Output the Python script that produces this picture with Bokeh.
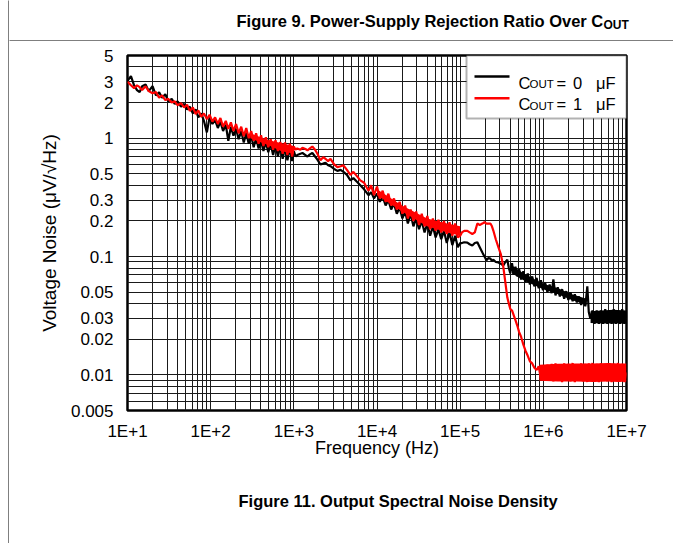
from bokeh.plotting import figure
from bokeh.layouts import row, column
from bokeh.models import FixedTicker, CustomJSTickFormatter, BoxAnnotation, Label, Range1d
from bokeh.embed import file_html
from bokeh.resources import INLINE

# ---------------- data ----------------
freq_band1 = [10, 11, 12, 13, 14, 15, 16.5, 18, 20, 22,
              24, 26, 28.5, 31, 34, 37, 40, 44, 48, 52,
              56, 61, 66, 71, 77, 83, 90, 97, 105, 113,
              122, 131, 141, 152, 163, 175, 188, 202, 217, 233,
              250, 268, 287, 307, 329, 352, 377, 403, 431, 461,
              493, 527, 563, 602, 643, 687, 734, 784, 837, 894,
              955, 1000]
freq_band2 = [1050, 1100, 1200, 1270, 1380, 1460, 1560, 1670, 1800, 1920,
              2090, 2250, 2400, 2580, 2760, 3050, 3340, 3650, 3950, 4350,
              4790, 5200, 5700, 6300, 7000, 7900,
              8500, 9200, 10000, 10800, 11700, 12700, 13700, 14800, 16000, 17300,
              18700, 20200, 21800, 23500, 25400, 27400, 29600, 32000, 34500, 37300,
              40300, 43500, 47000, 50700, 54800, 59200, 63900, 69000, 74500, 80500,
              86900, 93800, 100000]
freq_band3 = [105e3, 112e3, 122e3, 130e3, 140e3, 150e3, 161e3, 172e3, 185e3, 196e3,
              207e3, 219e3, 231e3, 241e3, 251e3, 268e3, 288e3, 308e3, 330e3, 350e3,
              369e3, 385e3, 401e3, 420e3, 440e3, 462e3, 487e3, 512e3, 540e3, 575e3,
              610e3, 650e3, 690e3, 735e3, 780e3, 830e3, 880e3, 935e3, 990e3, 1.05e6,
              1.12e6, 1.19e6, 1.26e6, 1.32e6, 1.40e6, 1.49e6, 1.58e6, 1.68e6, 1.78e6, 1.89e6,
              2.0e6, 2.12e6, 2.25e6, 2.39e6, 2.53e6, 2.68e6, 2.85e6, 3.02e6, 3.2e6, 3.38e6,
              3.52e6, 3.67e6, 3.9e6, 4.13e6, 4.38e6, 4.65e6, 4.93e6, 5.23e6, 5.55e6, 5.88e6,
              6.24e6, 6.62e6, 7.02e6, 7.44e6, 7.9e6, 8.37e6, 8.88e6, 9.42e6, 1.0e7]

# C_OUT = 0 uF (black)
cout0_band1 = [3.05, 3.35, 2.8, 2.55, 2.45, 2.75, 2.85, 2.5, 2.75, 2.3,
               2.45, 2.2, 2.35, 2.05, 2.15, 1.95, 2.05, 1.85, 1.95, 1.75,
               1.85, 1.62, 1.75, 1.5, 1.62, 1.4, 1.12, 1.5, 1.32, 1.42,
               1.22, 1.38, 1.15, 1.3, 0.95, 1.25, 1.05, 1.2, 0.98, 1.15,
               0.92, 1.1, 0.9, 1.05, 0.84, 1.0, 0.82, 0.95, 0.78, 0.93,
               0.76, 0.9, 0.72, 0.88, 0.7, 0.86, 0.67, 0.84, 0.65, 0.82,
               0.64, 0.78]
cout0_band2 = [0.7, 0.72, 0.74, 0.75, 0.72, 0.7, 0.73, 0.75, 0.7, 0.66,
               0.6, 0.61, 0.62, 0.59, 0.58, 0.55, 0.53, 0.54, 0.52, 0.49,
               0.44, 0.46, 0.43, 0.4, 0.37, 0.33,
               0.35, 0.31, 0.34, 0.29, 0.32, 0.27, 0.3, 0.25, 0.28, 0.23,
               0.26, 0.21, 0.24, 0.19, 0.23, 0.18, 0.21, 0.17, 0.2, 0.16,
               0.19, 0.15, 0.18, 0.145, 0.17, 0.14, 0.165, 0.13, 0.16, 0.125,
               0.15, 0.12, 0.13]
cout0_band3 = [0.13, 0.132, 0.131, 0.127, 0.124, 0.13, 0.132, 0.12, 0.108, 0.1,
               0.093, 0.097, 0.096, 0.092, 0.094, 0.09, 0.089, 0.087, 0.084, 0.09,
               0.094, 0.08, 0.072, 0.088, 0.07, 0.082, 0.068, 0.078, 0.064, 0.075,
               0.061, 0.072, 0.058, 0.068, 0.056, 0.066, 0.054, 0.063, 0.052, 0.06,
               0.05, 0.058, 0.049, 0.064, 0.047, 0.055, 0.046, 0.053, 0.044, 0.051,
               0.043, 0.05, 0.042, 0.048, 0.041, 0.046, 0.039, 0.044, 0.038, 0.056,
               0.034, 0.03, 0.035, 0.027, 0.035, 0.027, 0.035, 0.027, 0.036, 0.027,
               0.035, 0.027, 0.036, 0.027, 0.035, 0.027, 0.036, 0.027, 0.032]

# C_OUT = 1 uF (red)
cout1_band1 = [3.0, 2.8, 2.65, 2.8, 2.7, 2.55, 2.75, 2.5, 2.4, 2.45,
               2.2, 2.3, 2.1, 2.15, 2.0, 2.05, 1.9, 1.98, 1.82, 1.92,
               1.7, 1.82, 1.6, 1.72, 1.52, 1.62, 1.45, 1.58, 1.38, 1.5,
               1.32, 1.48, 1.25, 1.4, 1.2, 1.36, 1.15, 1.32, 1.1, 1.25,
               1.04, 1.22, 1.0, 1.15, 0.95, 1.1, 0.9, 1.06, 0.86, 1.02,
               0.84, 0.98, 0.8, 0.96, 0.78, 0.93, 0.74, 0.92, 0.72, 0.9,
               0.7, 0.85]
cout1_band2 = [0.8, 0.82, 0.8, 0.83, 0.81, 0.79, 0.82, 0.85, 0.8, 0.74,
               0.65, 0.69, 0.67, 0.64, 0.67, 0.6, 0.57, 0.58, 0.59, 0.54,
               0.49, 0.52, 0.48, 0.44, 0.42, 0.36,
               0.40, 0.33, 0.39, 0.31, 0.36, 0.29, 0.34, 0.27, 0.31, 0.25,
               0.29, 0.23, 0.27, 0.21, 0.25, 0.2, 0.24, 0.185, 0.23, 0.18,
               0.22, 0.17, 0.21, 0.165, 0.205, 0.16, 0.2, 0.155, 0.195, 0.15,
               0.19, 0.145, 0.15]
cout1_band3 = [0.16, 0.165, 0.165, 0.16, 0.155, 0.16, 0.19, 0.185, 0.19, 0.195,
               0.19, 0.19, 0.19, 0.18, 0.165, 0.14, 0.12, 0.105, 0.082, 0.06,
               0.045, 0.04, 0.036, 0.035, 0.032, 0.029, 0.026, 0.023, 0.021, 0.018,
               0.016, 0.0145, 0.013, 0.0125, 0.0115, 0.011, 0.0118, 0.0092, 0.012, 0.0089,
               0.0122, 0.009, 0.0124, 0.0088, 0.0125, 0.0089, 0.0123, 0.0087, 0.0125, 0.009,
               0.0124, 0.0088, 0.0126, 0.0087, 0.0123, 0.0089, 0.0125, 0.0088, 0.0124, 0.0087,
               0.0125, 0.009, 0.0126, 0.0088, 0.0124, 0.0087, 0.0125, 0.0089, 0.0123, 0.0088,
               0.0125, 0.0087, 0.0124, 0.0089, 0.0126, 0.0088, 0.0124, 0.0087, 0.0105]

# dense-noise envelopes (where the trace is so dense that it reads as a solid band)
cout0_env_freq = [4.2e5, 6e5, 1e6, 1.5e6, 2.2e6, 3.3e6]
cout0_env_low = [0.072, 0.062, 0.053, 0.048, 0.043, 0.039]
cout0_env_high = [0.084, 0.071, 0.059, 0.054, 0.048, 0.044]
cout0_flat_freq = [3.7e6, 5e6, 7e6, 1e7]
cout0_flat_low = [0.0275, 0.0272, 0.0272, 0.0272]
cout0_flat_high = [0.0345, 0.035, 0.0355, 0.035]
cout1_mid_freq = [300, 500, 700, 1000]
cout1_mid_low = [1.0, 0.87, 0.78, 0.74]
cout1_mid_high = [1.1, 0.96, 0.91, 0.86]
cout1_env_freq = [1e4, 2e4, 4e4, 7e4, 1e5]
cout1_env_low = [0.33, 0.24, 0.18, 0.16, 0.15]
cout1_env_high = [0.37, 0.27, 0.21, 0.19, 0.18]
cout1_flat_freq = [0.9e6, 1.5e6, 2.5e6, 4e6, 6e6, 8e6, 1e7]
cout1_flat_low = [0.0089, 0.0088, 0.0088, 0.0087, 0.0088, 0.0087, 0.0088]
cout1_flat_high = [0.0122, 0.0124, 0.0125, 0.0125, 0.0126, 0.0125, 0.0125]

x_ticks = [1e1, 1e2, 1e3, 1e4, 1e5, 1e6, 1e7]
x_tick_labels = ["1E+1", "1E+2", "1E+3", "1E+4", "1E+5", "1E+6", "1E+7"]
y_ticks = [0.005, 0.01, 0.02, 0.03, 0.05, 0.1, 0.2, 0.3, 0.5, 1, 2, 3, 5]
y_tick_labels = ["0.005", "0.01", "0.02", "0.03", "0.05", "0.1", "0.2", "0.3",
                 "0.5", "1", "2", "3", "5"]

legend_c = "C"
legend_sub = "OUT"
legend_eq = "="
legend_values = ["0", "1"]
legend_unit = "\u03bcF"
title_text = "Figure 9. Power-Supply Rejection Ratio Over C"
title_sub = "OUT"
caption_text = "Figure 11. Output Spectral Noise Density"
x_label = "Frequency (Hz)"
y_label = "Voltage Noise (\u03bcV/\u221aHz)"

freq = freq_band1 + freq_band2 + freq_band3
cout0 = cout0_band1 + cout0_band2 + cout0_band3
cout1 = cout1_band1 + cout1_band2 + cout1_band3

FONT = "Liberation Sans"
RED = "#ff0000"


def blank_fig(w, h):
    f = figure(width=w, height=h, output_backend="svg", toolbar_location=None, title=None,
               x_axis_location=None, y_axis_location=None, min_border=0,
               x_range=Range1d(0, 1), y_range=Range1d(0, 1), frame_align=False)
    f.grid.visible = False
    f.outline_line_color = None
    f.background_fill_color = "white"
    f.border_fill_color = "white"
    return f


def screen_box(fig, left, right, top, bottom, **kw):
    fig.add_layout(BoxAnnotation(left=left, right=right, top=top, bottom=bottom,
                                 left_units="screen", right_units="screen",
                                 top_units="screen", bottom_units="screen", **kw))


def screen_text(fig, text, x, y, size, bold=False):
    fig.add_layout(Label(x=x, y=y, x_units="screen", y_units="screen", text=text,
                         text_font=FONT, text_font_size=size, text_color="black",
                         text_font_style="bold" if bold else "normal",
                         text_baseline="alphabetic", text_align="left"))


# ---------------- left page rule ----------------
strip = blank_fig(9, 543)
screen_box(strip, 8, 9, 2000, -100, fill_color="black", fill_alpha=1, line_color=None)

# ---------------- top: caption of the previous figure + rule ----------------
top = blank_fig(664, 41)      # page x 9..673, y 0..41
screen_box(top, -10, 2000, 1, 0, fill_color="black", fill_alpha=1, line_color=None)
screen_text(top, title_text, 236 - 9, 41 - 20, "16.5px", bold=True)
screen_text(top, title_sub, 603 - 9, 41 - 24, "12px", bold=True)

# ---------------- main chart ----------------
p = figure(width=664, height=429, x_axis_type="log", y_axis_type="log",
           x_range=Range1d(10, 1e7), y_range=Range1d(0.005, 5),
           output_backend="svg", toolbar_location=None, title=None, frame_align=False,
           min_border_left=118, min_border_right=47,
           min_border_top=14, min_border_bottom=60)
p.background_fill_color = "white"
p.border_fill_color = "white"
p.outline_line_color = "black"
p.outline_line_width = 2.5

x_minor = [m * 10 ** e for e in range(1, 7) for m in range(2, 10)]
y_minor = [m * 10.0 ** e for e in range(-3, 1) for m in range(1, 10)]
p.xaxis.ticker = FixedTicker(ticks=x_ticks, minor_ticks=x_minor)
p.yaxis.ticker = FixedTicker(ticks=y_ticks, minor_ticks=y_minor)

fmt_code = """
for (let i = 0; i < tvals.length; i++) {
  if (Math.abs(Math.log10(tick) - Math.log10(tvals[i])) < 1e-6) return tlabs[i];
}
return "";
"""
p.xaxis.formatter = CustomJSTickFormatter(args=dict(tvals=x_ticks, tlabs=x_tick_labels), code=fmt_code)
p.yaxis.formatter = CustomJSTickFormatter(args=dict(tvals=y_ticks, tlabs=y_tick_labels), code=fmt_code)

for ax in (p.xaxis[0], p.yaxis[0]):
    ax.axis_line_color = None
    ax.major_tick_line_color = None
    ax.minor_tick_line_color = None
    ax.major_label_text_font = FONT
    ax.major_label_text_font_size = "17px"
    ax.major_label_text_color = "black"
    ax.axis_label_text_font = FONT
    ax.axis_label_text_font_style = "normal"
    ax.axis_label_text_color = "black"
p.xaxis.axis_label = x_label
p.yaxis.axis_label = y_label
p.xaxis.axis_label_text_font_size = "18px"
p.yaxis.axis_label_text_font_size = "19px"
p.xaxis.major_label_standoff = 5
p.xaxis.axis_label_standoff = -6
p.yaxis.major_label_standoff = 8
p.yaxis.axis_label_standoff = 8

for g in (p.xgrid[0], p.ygrid[0]):
    g.grid_line_color = "#1a1a1a"
    g.grid_line_width = 1
    g.minor_grid_line_color = "#1a1a1a"
    g.minor_grid_line_width = 1

p.varea(x=cout0_env_freq, y1=cout0_env_low, y2=cout0_env_high, fill_color="black")
p.varea(x=cout0_flat_freq, y1=cout0_flat_low, y2=cout0_flat_high, fill_color="black")
p.line(freq, cout0, line_color="black", line_width=2.2)
p.varea(x=cout1_mid_freq, y1=cout1_mid_low, y2=cout1_mid_high, fill_color=RED)
p.varea(x=cout1_env_freq, y1=cout1_env_low, y2=cout1_env_high, fill_color=RED)
p.varea(x=cout1_flat_freq, y1=cout1_flat_low, y2=cout1_flat_high, fill_color=RED)
p.line(freq, cout1, line_color=RED, line_width=2.2)

# page coordinates of the frame's left/bottom -> screen units of the main chart
FL, FB = 127, 410
def sx(px):
    return px - FL
def sy(py):
    return FB - py

# legend (box, line samples, texts with subscript)
screen_box(p, sx(466), sx(626), sy(55), sy(118),
           fill_color="white", fill_alpha=1, line_color="black", line_width=2)
for ly, col in ((76, "black"), (97.7, RED)):
    screen_box(p, sx(474), sx(509), sy(ly - 1.2), sy(ly + 1.2),
               fill_color=col, fill_alpha=1, line_color=None)
for base, val in ((82, legend_values[0]), (103.5, legend_values[1])):
    screen_text(p, legend_c, sx(518), sy(base), "16.5px")
    screen_text(p, legend_sub, sx(529), sy(base + 1.7), "11.5px")
    screen_text(p, legend_eq, sx(556), sy(base), "16.5px")
    screen_text(p, val, sx(572.5), sy(base), "16.5px")
    screen_text(p, legend_unit, sx(595.5), sy(base), "16.5px")

# ---------------- bottom caption ----------------
bottom = blank_fig(664, 73)   # page x 9..673, y 470..543
screen_text(bottom, caption_text, 238 - 9, 543 - 500, "16.5px", bold=True)

layout = row(strip, column(top, p, bottom, spacing=0), spacing=0)
open("out.html", "w").write(file_html(layout, INLINE))
